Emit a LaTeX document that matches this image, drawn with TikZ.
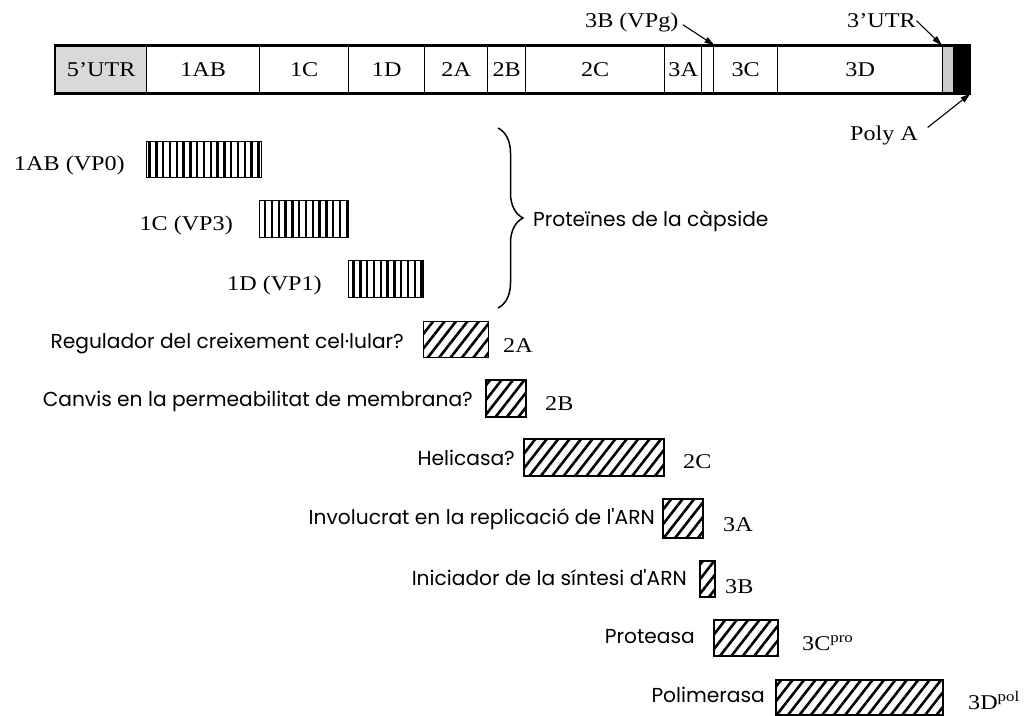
\documentclass[tikz,border=0pt]{standalone}
\usepackage{fontspec}
\setmainfont{Liberation Serif}[FakeStretch=1.15]
\newfontfamily\gsans{Poppins}
\usetikzlibrary{patterns.meta,decorations.pathreplacing,arrows.meta}
\begin{document}
\begin{tikzpicture}[x=1pt,y=-1pt,
 ser/.style={font=\fontsize{21}{21}\selectfont, inner sep=0pt},
 sans/.style={font=\gsans\fontsize{20.2}{20.2}\selectfont, inner sep=0pt, anchor=base east},
 lab/.style={ser, anchor=base west},
 cell/.style={draw, line width=1.4pt, minimum height=47pt, inner sep=0pt, anchor=west, font=\fontsize{21}{21}\selectfont},
 vbox/.style={draw, line width=1.4pt, inner sep=0pt, anchor=north west, pattern={Lines[angle=90,distance=6.8pt,line width=2.5pt]}},
 hbox/.style={draw, line width=1.6pt, inner sep=0pt, anchor=north west, pattern={Lines[angle=52,distance=9pt,line width=2.6pt]}},
 arr/.style={-{Triangle[length=10pt,width=6pt]}, line width=1.1pt}]
\useasboundingbox (0,0) rectangle (1024,715);
% genome bar
\node[cell, minimum width=91pt, fill=black!15] (utr5) at (55,69.5) {5’UTR};
\node[cell, minimum width=113pt] (c1AB) at (146,69.5) {1AB};
\node[cell, minimum width=89pt] (c1C) at (259,69.5) {1C};
\node[cell, minimum width=76pt] (c1D) at (348,69.5) {1D};
\node[cell, minimum width=63pt] (c2A) at (424,69.5) {2A};
\node[cell, minimum width=38pt] (c2B) at (487,69.5) {2B};
\node[cell, minimum width=139pt] (c2C) at (525,69.5) {2C};
\node[cell, minimum width=37pt] (c3A) at (664,69.5) {3A};
\node[cell, minimum width=12pt] (c3B) at (701,69.5) {};
\node[cell, minimum width=64pt] (c3C) at (713,69.5) {3C};
\node[cell, minimum width=165pt] (c3D) at (777,69.5) {3D};
\node[cell, minimum width=11pt, fill=black!20] (utr3) at (942,69.5) {};
\node[cell, minimum width=16pt, fill=black] (polyA) at (953,69.5) {};
\draw[line width=1.9pt] (utr5.north west) rectangle (polyA.south east);
% genome annotations
\node[lab] (vpg) at (585,27) {3B (VPg)};
\node[lab] (utr3lab) at (847,27) {3’UTR};
\node[lab] (polyalab) at (850,140) {Poly A};
\draw[arr, shorten <=5pt] (vpg.east) -- (c3B.north east);
\draw[arr, shorten <=1pt] (utr3lab.east) -- (utr3.north west);
\draw[arr, shorten <=12pt] (polyalab.east) -- (polyA.south east);
% capsid proteins
\node[vbox, minimum width=115pt, minimum height=36pt] (b1AB) at (145,140) {};
\node[vbox, minimum width=89pt, minimum height=37pt] (b1C) at (259,200) {};
\node[vbox, minimum width=75pt, minimum height=37pt] (b1D) at (348,260) {};
\node[ser, anchor=base east] (l1AB) at (125,170) {1AB (VP0)};
\node[ser, anchor=base east] (l1C) at (233,230) {1C (VP3)};
\node[ser, anchor=base east] (l1D) at (322,290) {1D (VP1)};
\draw[line width=1.5pt, decorate, decoration={brace, amplitude=25pt}] (498,128) -- (498,308);
\node[sans, anchor=base west] (capsid) at (533,226) {Proteïnes de la càpside};
% non-structural proteins
\node[hbox, minimum width=65pt, minimum height=36pt] (h2A) at (422,320) {};
\node[hbox, minimum width=40pt, minimum height=37pt] (h2B) at (485,379) {};
\node[hbox, minimum width=140pt, minimum height=37pt] (h2C) at (523,438) {};
\node[hbox, minimum width=40pt, minimum height=39pt] (h3A) at (662,498) {};
\node[hbox, minimum width=15pt, minimum height=36pt] (h3B) at (699,560) {};
\node[hbox, minimum width=64pt, minimum height=36pt] (h3C) at (713,619) {};
\node[hbox, minimum width=167pt, minimum height=35pt] (h3D) at (775,679) {};
\node[sans] (d2A) at (404,348) {Regulador del creixement cel·lular?};
\node[sans] (d2B) at (473,406) {Canvis en la permeabilitat de membrana?};
\node[sans] (d2C) at (515,465) {Helicasa?};
\node[sans] (d3A) at (655,524) {Involucrat en la replicació de l'ARN};
\node[sans] (d3B) at (687,585) {Iniciador de la síntesi d'ARN};
\node[sans] (d3C) at (695,643) {Proteasa};
\node[sans] (d3D) at (765,702) {Polimerasa};
\node[lab] (n2A) at (503,352) {2A};
\node[lab] (n2B) at (545,410) {2B};
\node[lab] (n2C) at (683,468) {2C};
\node[lab] (n3A) at (723,531) {3A};
\node[lab] (n3B) at (725,593) {3B};
\node[lab] (n3C) at (802,650) {3C\textsuperscript{pro}};
\node[lab] (n3D) at (968,709) {3D\textsuperscript{pol}};
\end{tikzpicture}
\end{document}
